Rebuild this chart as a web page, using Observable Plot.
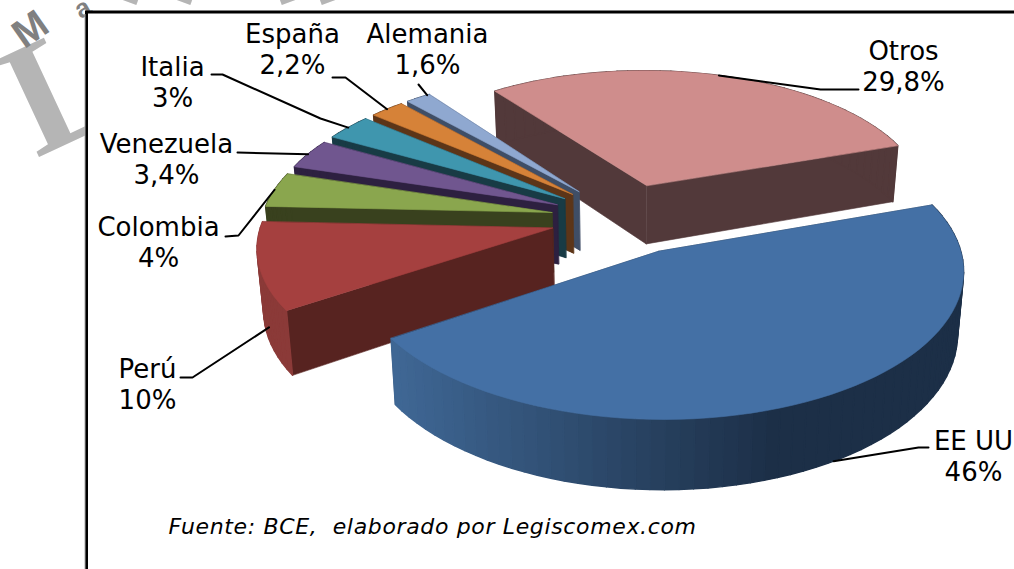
<!DOCTYPE html>
<html><head><meta charset="utf-8">
<style>html,body{margin:0;padding:0;background:#fff;overflow:hidden}svg{display:block}</style>
<script src="https://cdn.jsdelivr.net/npm/d3@7"></script>
<script src="https://cdn.jsdelivr.net/npm/@observablehq/plot@0.6"></script>
</head><body><div id="chart"></div>
<script>
// Data
const names = ["Otros","EE UU","Perú","Colombia","Venezuela","Italia","España","Alemania"];
const shares = [29.8,46,10,4,3.4,3,2.2,1.6];
const shareLabels = ["29,8%","46%","10%","4%","3,4%","3%","2,2%","1,6%"];
const sourceNote = "Fuente: BCE,  elaborado por Legiscomex.com";
// Styles
const topColors  = ["#cf8d8c","#4470a5","#a5403f","#8aa64e","#70568f","#3f96ae","#d68238","#8fa8d0"];
const wallColors = ["#52393a","#1c2f47","#572320","#39411e","#2d2040","#183b45","#5c3518","#3f4e66"];
const rimColors  = [["#52393a","#52393a"],["#406896","#1c2f47"],["#8b3a38","#8b3a38"],["#39411e","#39411e"],["#2d2040","#2d2040"],["#183b45","#183b45"],["#5c3518","#5c3518"],["#3f4e66","#3f4e66"]];
const radiusScale = [0.98,1.013,1,1,1,1,1,1];
const drawOrder = [0,7,6,5,4,3,2,1];
// 3D view
const view = {ox:624.5, oy:218, a:290, b:138, k:0.1175, h:60, shrink:0.018, explode:0.257, start:-36.3};
const rad = d => d*Math.PI/180;
function project(X,Y,z){
  const s = 1/(1+view.k*Y);
  return {x:view.ox+view.a*X*s*(1-view.shrink*z), y:view.oy-view.b*Y*s+view.h*z*s};
}
const total = d3.sum(shares);
let acc = view.start;
const slices = shares.map((v,i)=>{
  const a0=acc, a1=acc+v/total*360; acc=a1;
  const mid=(a0+a1)/2;
  const ex=view.explode*Math.sin(rad(mid)), ey=view.explode*Math.cos(rad(mid));
  return {i,a0,a1,ex,ey,r:radiusScale[i]};
});
const rimXY=(s,deg)=>[s.ex+s.r*Math.sin(rad(deg)),s.ey+s.r*Math.cos(rad(deg))];
function polys(){
  const out=[];
  for(const i of drawOrder){
    const s=slices[i], n=Math.max(3,Math.ceil((s.a1-s.a0)/2.5));
    const angs=d3.range(n+1).map(j=>s.a0+(s.a1-s.a0)*j/n);
    for(const a of [s.a1,s.a0]){
      const [X,Y]=rimXY(s,a);
      out.push({c:wallColors[i],sw:0.6,pts:[project(s.ex,s.ey,0),project(X,Y,0),project(X,Y,1),project(s.ex,s.ey,1)]});
    }
    const mix=d3.interpolateRgb(rimColors[i][0],rimColors[i][1]);
    for(let j=0;j<n;j++){
      const [X0,Y0]=rimXY(s,angs[j]), [X1,Y1]=rimXY(s,angs[j+1]);
      const p=[project(X0,Y0,0),project(X1,Y1,0),project(X1,Y1,1),project(X0,Y0,1)];
      const t=Math.min(1,Math.max(0,(p[0].x-390)/390));
      out.push({c:mix(t),sw:1.4,pts:p});
    }
    const rim=angs.map(a=>{const [X,Y]=rimXY(s,a);return project(X,Y,0)});
    out.push({c:topColors[i],sw:0.6,pts:[project(s.ex,s.ey,0),...rim]});
  }
  return out;
}
// Layout of labels: label centre, leader elbow, rim anchor (fraction along slice, wall level)
const labelLayout = [
 {x:903,y:65, elbow:[[858,89],[820,89]], f:0.5, z:0},
 {x:973,y:455,elbow:[[928,447],[918,447]], f:0.47, z:1},
 {x:147,y:383,elbow:[[180,377],[192,377]], f:0.35, z:0.75},
 {x:158,y:241,elbow:[[225,236],[238,235]], f:0.5, z:0},
 {x:166,y:158,elbow:[[237,152]], f:0.5, z:0},
 {x:172,y:81, elbow:[[211,74],[222,74],[320,118]], f:0.5, z:0},
 {x:292,y:48, elbow:[[332,77],[345,77]], f:0.5, z:0},
 {x:427,y:48, elbow:[[418,84]], f:0.9, z:0}
];
const leaders = labelLayout.map((l,i)=>{
  const s=slices[i], [X,Y]=rimXY(s,s.a0+(s.a1-s.a0)*l.f);
  return [...l.elbow.map(([x,y])=>({x,y})),project(X,Y,l.z)];
});
const labelRows = names.map((n,i)=>({t:n+"\n"+shareLabels[i],x:labelLayout[i].x,y:labelLayout[i].y}));
const F="DejaVu Sans";
const chart = Plot.plot({
  width:1014,height:569,margin:0,
  x:{domain:[0,1014],range:[0,1014],axis:null},
  y:{domain:[0,569],range:[0,569],axis:null},
  marks:[
    Plot.text([{t:"L",x:63,y:88}],{x:"x",y:"y",text:"t",rotate:-25,fontSize:162,fontWeight:"bold",fontFamily:"Liberation Serif",fill:"#b5b5b5"}),
    Plot.text([{t:"M",x:30,y:29}],{x:"x",y:"y",text:"t",rotate:-35,fontSize:40,fontWeight:"bold",fontFamily:"Liberation Sans",fill:"#808080"}),
    Plot.text([{t:"a",x:82,y:8}],{x:"x",y:"y",text:"t",rotate:-30,fontSize:26,fontWeight:"bold",fontFamily:"Liberation Sans",fill:"#808080"}),
    Plot.text([{t:"I",x:140,y:-28},{t:"I",x:194,y:-28}],{x:"x",y:"y",text:"t",rotate:20,fontSize:100,fontWeight:"bold",fontFamily:"Liberation Sans",fill:"#b5b5b5"}),
    Plot.text([{t:"I",x:277,y:-28},{t:"I",x:317,y:-28}],{x:"x",y:"y",text:"t",rotate:-20,fontSize:100,fontWeight:"bold",fontFamily:"Liberation Sans",fill:"#b5b5b5"}),
    Plot.rect([{x1:86.5,x2:1030,y1:12,y2:590}],{x1:"x1",x2:"x2",y1:"y1",y2:"y2",fill:"#fff",stroke:"#000",strokeWidth:3}),
    Plot.ruleX([84.5],{stroke:"#aaa",strokeWidth:1,y1:14,y2:569}),
    ...polys().map(p=>Plot.line(p.pts,{x:"x",y:"y",curve:"linear-closed",fill:p.c,stroke:p.c,strokeWidth:p.sw})),
    ...leaders.map(l=>Plot.line(l,{x:"x",y:"y",stroke:"#000",strokeWidth:2})),
    Plot.text(labelRows,{x:"x",y:"y",text:"t",fontSize:26,lineHeight:1.19,fontFamily:F,fill:"#000",textAnchor:"middle",lineAnchor:"middle"}),
    Plot.text([sourceNote],{x:()=>168,y:()=>526,text:d=>d,fontSize:22,fontStyle:"italic",fontFamily:F,fill:"#000",textAnchor:"start"})
  ]
});
d3.select(chart).selectAll("text").filter(function(){return this.textContent===sourceNote}).attr("letter-spacing","0.65");
document.getElementById("chart").append(chart);
</script></body></html>
